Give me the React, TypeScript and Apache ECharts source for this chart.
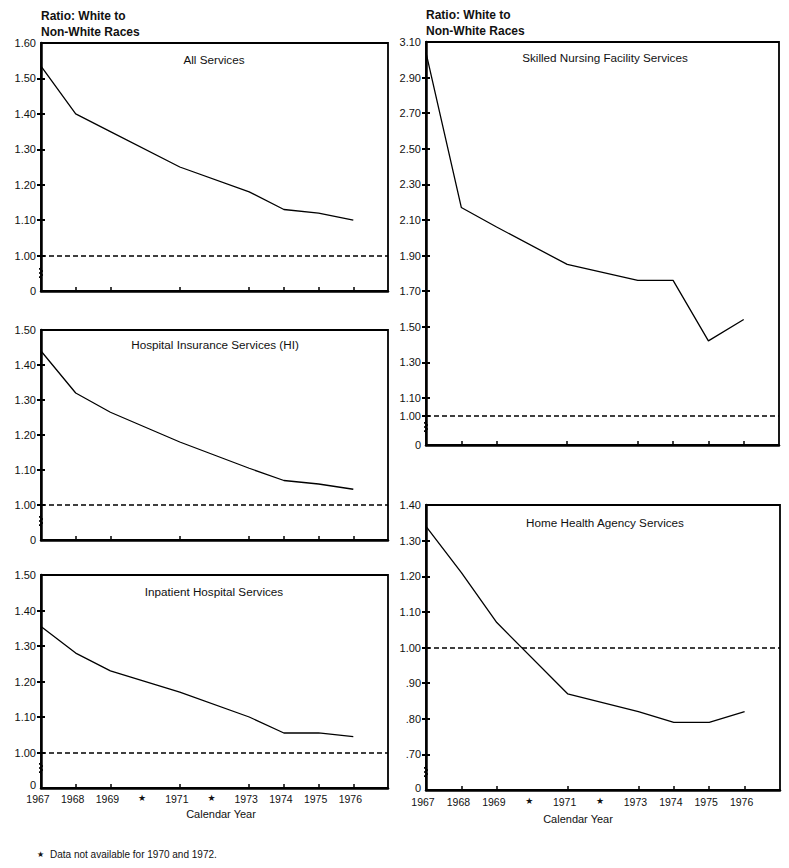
import React, { useEffect, useRef } from "react";
import * as echarts from "echarts";

// ---- data ----
const years = [1967, 1968, 1969, 1971, 1973, 1974, 1975, 1976];
const allServices = [1.535, 1.40, 1.35, 1.25, 1.18, 1.13, 1.12, 1.10];
const hospitalInsurance = [1.44, 1.32, 1.265, 1.18, 1.105, 1.07, 1.06, 1.045];
const inpatientHospital = [1.355, 1.28, 1.23, 1.17, 1.10, 1.055, 1.055, 1.045];
const skilledNursing = [3.04, 2.17, 2.06, 1.85, 1.76, 1.76, 1.42, 1.54];
const homeHealth = [1.34, 1.21, 1.07, 0.87, 0.82, 0.79, 0.79, 0.82];

const panelTitles = [
  "All Services",
  "Hospital Insurance Services (HI)",
  "Inpatient Hospital Services",
  "Skilled Nursing Facility Services",
  "Home Health Agency Services",
];
const referenceRatio = 1.0;

const yMins = [0.9, 0.9, 0.9, 0.835, 0.6];
const yMaxs = [1.6, 1.5, 1.5, 3.1, 1.4];
const yLabelValues = [
  [1.0, 1.1, 1.2, 1.3, 1.4, 1.5, 1.6],
  [1.0, 1.1, 1.2, 1.3, 1.4, 1.5],
  [1.0, 1.1, 1.2, 1.3, 1.4, 1.5],
  [1.0, 1.1, 1.3, 1.5, 1.7, 1.9, 2.1, 2.3, 2.5, 2.7, 2.9, 3.1],
  [0.7, 0.8, 0.9, 1.0, 1.1, 1.2, 1.3, 1.4],
];
const yTickValues = [
  [1.0, 1.1, 1.2, 1.3, 1.4, 1.5],
  [1.0, 1.1, 1.2, 1.3, 1.4],
  [1.0, 1.1, 1.2, 1.3, 1.4],
  [1.0, 1.1, 1.3, 1.5, 1.7, 1.9, 2.1, 2.3, 2.5, 2.7, 2.9],
  [0.7, 0.8, 0.9, 1.0, 1.1, 1.2, 1.3],
];
const zeroLabel = "0";
const xLabelValues = [1967, 1968, 1969, 1970, 1971, 1972, 1973, 1974, 1975, 1976];
const missingYears = [1970, 1972];
const xTickValues = [1968, 1969, 1971, 1973, 1974, 1975, 1976];
const seriesValues = [allServices, hospitalInsurance, inpatientHospital, skilledNursing, homeHealth];

// ---- layout ----
const grids = [
  { left: 41, top: 43, width: 347, height: 248 },
  { left: 41, top: 330, width: 347, height: 210 },
  { left: 41, top: 575, width: 347, height: 213 },
  { left: 426, top: 42, width: 353, height: 403 },
  { left: 426, top: 505, width: 354, height: 285 },
];
const titlePos = [
  [214, 59],
  [215, 344],
  [214, 591],
  [605, 57],
  [605, 522],
];
const showXLabels = [false, false, true, false, true];
const xLabelMargin = [4, 4, 5.5, 4, 6.5];
const zeroShift = [0, 0, 3, 0, 2.5];
const breakY = [273, 521, 768, 427, 772];

const FONT = "'Liberation Sans', Arial, Helvetica, sans-serif";
const INK = "#111";

export default function App() {
  const ref = useRef<HTMLDivElement>(null);
  useEffect(() => {
    if (!ref.current) return;
    const chart = echarts.init(ref.current, null, { renderer: "svg" });

    const gridOpts: any[] = [];
    const xAxis: any[] = [];
    const yAxis: any[] = [];
    const series: any[] = [];
    const graphic: any[] = [];

    const textEl = (
      text: string,
      x: number,
      y: number,
      fontSize: number,
      weight = "normal",
      align = "left"
    ) => ({
      type: "text",
      x,
      y,
      style: {
        text,
        fontSize,
        fontWeight: weight,
        fontFamily: FONT,
        fill: INK,
        align,
        verticalAlign: "middle",
        textAlign: align,
        textVerticalAlign: "middle",
      },
    });

    const fmt = (v: number) => {
      const s = v.toFixed(2);
      return v < 1 ? s.slice(1) : s;
    };

    // main grids
    grids.forEach((g, i) => {
      gridOpts.push({
        ...g,
        show: true,
        borderColor: "#000",
        borderWidth: 1.8,
        backgroundColor: "transparent",
        containLabel: false,
      });
      xAxis.push({
        type: "value",
        gridIndex: i,
        min: 1967,
        max: 1977,
        axisLine: { show: true, lineStyle: { color: "#000", width: 2.5 } },
        axisTick: {
          show: true,
          inside: true,
          length: 4,
          customValues: xTickValues,
          lineStyle: { color: "#000", width: 1.5 },
        },
        splitLine: { show: false },
        axisLabel: {
          show: showXLabels[i],
          customValues: xLabelValues,
          margin: xLabelMargin[i],
          fontSize: 10.5,
          fontFamily: FONT,
          color: INK,
          padding: [0, 6, 0, 0],
          formatter: (v: number) =>
            missingYears.some((m) => Math.abs(m - v) < 1e-6) ? "{s|★}" : String(Math.round(v)),
          rich: { s: { fontSize: 9, fontFamily: "'DejaVu Sans', sans-serif", color: INK } },
        },
      });
      yAxis.push({
        type: "value",
        gridIndex: i,
        position: "left",
        min: yMins[i],
        max: yMaxs[i],
        axisLine: { show: true, lineStyle: { color: "#000", width: 2.5 } },
        axisTick: {
          show: true,
          length: 4,
          customValues: yTickValues[i],
          lineStyle: { color: "#000", width: 2 },
        },
        splitLine: { show: false },
        axisLabel: {
          show: true,
          customValues: yLabelValues[i],
          margin: 5,
          fontSize: 11,
          fontFamily: FONT,
          color: INK,
          formatter: fmt,
        },
      });
      series.push({
        type: "line",
        xAxisIndex: i,
        yAxisIndex: i,
        symbol: "none",
        data: years.map((y, j) => [y, seriesValues[i][j]]),
        lineStyle: { color: "#000", width: 1.3 },
        markLine: {
          silent: true,
          symbol: "none",
          label: { show: false },
          lineStyle: { color: "#000", width: 1.5, type: [5, 3] },
          data: [{ yAxis: referenceRatio }],
        },
      });
      graphic.push({
        type: "text",
        x: titlePos[i][0],
        y: titlePos[i][1],
        style: {
          text: panelTitles[i],
          fontSize: 11.7,
          fontFamily: FONT,
          fill: INK,
          align: "center",
          verticalAlign: "middle",
          textAlign: "center",
          textVerticalAlign: "middle",
        },
      });
      // "0" at the foot of the broken axis
      graphic.push(textEl(zeroLabel, g.left - 5, g.top + g.height - zeroShift[i], 11, "normal", "right"));
      // axis break squiggle
      const bx = g.left;
      const by = breakY[i];
      graphic.push({
        type: "polyline",
        shape: {
          points: [
            [bx, by - 6],
            [bx - 2, by - 4],
            [bx + 2, by - 2],
            [bx - 2, by],
            [bx + 2, by + 2],
            [bx - 2, by + 4],
            [bx, by + 6],
          ],
        },
        style: { stroke: "#000", lineWidth: 1, fill: null },
      });
    });

    // overlay grids: inward half of the cross-shaped y ticks
    grids.forEach((g, i) => {
      const k = grids.length + i;
      gridOpts.push({ ...g, show: false, containLabel: false });
      xAxis.push({
        type: "value",
        gridIndex: k,
        min: 1967,
        max: 1977,
        show: false,
      });
      yAxis.push({
        type: "value",
        gridIndex: k,
        position: "left",
        min: yMins[i],
        max: yMaxs[i],
        axisLine: { show: false },
        axisTick: {
          show: true,
          inside: true,
          length: 4,
          customValues: yTickValues[i],
          lineStyle: { color: "#000", width: 2 },
        },
        splitLine: { show: false },
        axisLabel: { show: false },
      });
    });

    graphic.push(textEl("Ratio: White to", 41, 16, 12, "bold"));
    graphic.push(textEl("Non-White Races", 41, 32, 12, "bold"));
    graphic.push(textEl("Ratio: White to", 426, 15, 12, "bold"));
    graphic.push(textEl("Non-White Races", 426, 31, 12, "bold"));
    graphic.push(textEl("Calendar Year", 221, 814, 11, "normal", "center"));
    graphic.push(textEl("Calendar Year", 578, 819, 11, "normal", "center"));
    graphic.push({
      type: "text",
      x: 37,
      y: 854,
      style: {
        text: "★",
        fontSize: 8,
        fontFamily: "'DejaVu Sans', sans-serif",
        fill: INK,
        verticalAlign: "middle",
        textVerticalAlign: "middle",
      },
    });
    graphic.push(textEl("Data not available for 1970 and 1972.", 50, 854, 10));

    chart.setOption({
      animation: false,
      backgroundColor: "#fff",
      grid: gridOpts,
      xAxis,
      yAxis,
      series,
      graphic,
    });
    return () => chart.dispose();
  }, []);

  return (
    <div
      ref={ref}
      style={{ position: "absolute", left: 0, top: 0, width: 789, height: 868, background: "#fff" }}
    />
  );
}
